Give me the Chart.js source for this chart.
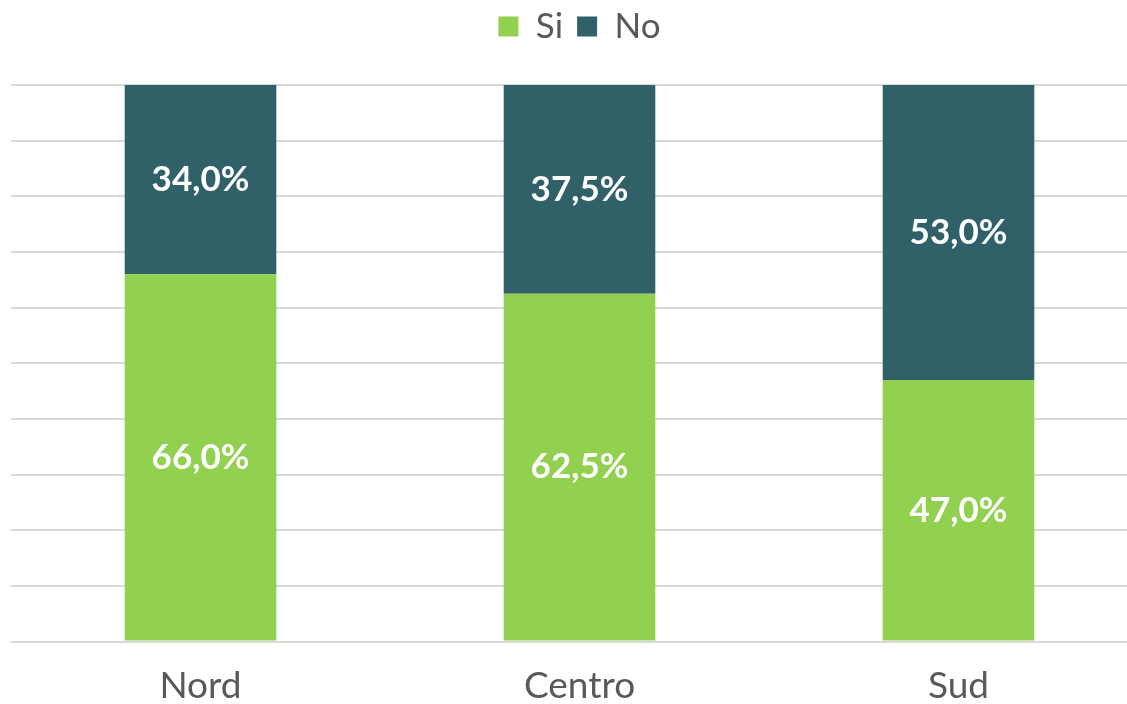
<!DOCTYPE html>
<html>
<head>
<meta charset="utf-8">
<script src="https://cdn.jsdelivr.net/npm/chart.js@4.4.0/dist/chart.umd.min.js"></script>
<style>
  html, body { margin: 0; padding: 0; background: #fff; overflow: hidden; }
  #wrap { width: 1150px; height: 722px; }
</style>
</head>
<body>
<div id="wrap"><canvas id="chart"></canvas></div>
<script>
// valori
var categories = ["Nord", "Centro", "Sud"];
var siValues = [66.0, 62.5, 47.0];
var noValues = [34.0, 37.5, 53.0];
var seriesNames = ["Si", "No"];

var FONT = "Lato, 'Open Sans', sans-serif";

function formatPct(v) {
    return v.toFixed(1).replace(".", ",") + "%";
}

// spazio fisso sotto la legenda
var legendSpace = {
    id: "legendSpace",
    beforeInit: function(chart) {
        var fitOrig = chart.legend.fit;
        chart.legend.fit = function() {
            fitOrig.bind(chart.legend)();
            this.height = 90;
        };
    }
};

// etichette bianche al centro di ogni segmento
var barLabels = {
    id: "barLabels",
    afterDatasetsDraw: function(chart) {
        var ctx = chart.ctx;
        ctx.save();
        ctx.fillStyle = "#ffffff";
        ctx.font = "bold 35px " + FONT;
        ctx.textAlign = "center";
        ctx.textBaseline = "middle";
        chart.data.datasets.forEach(function(ds, i) {
            var meta = chart.getDatasetMeta(i);
            meta.data.forEach(function(bar, j) {
                var mid = (bar.y + bar.base) / 2;
                ctx.fillText(formatPct(ds.data[j]), bar.x, mid);
            });
        });
        ctx.restore();
    }
};

new Chart(document.getElementById("chart"), {
    type: "bar",
    data: {
        labels: categories,
        datasets: [{
            label: seriesNames[0],
            data: siValues,
            backgroundColor: "#92d050",
            categoryPercentage: 1.0,
            barPercentage: 0.4
        }, {
            label: seriesNames[1],
            data: noValues,
            backgroundColor: "#316168",
            categoryPercentage: 1.0,
            barPercentage: 0.4
        }]
    },
    options: {
        responsive: true,
        maintainAspectRatio: false,
        animation: false,
        layout: { padding: { left: 11, right: 2, top: -5, bottom: 0 } },
        plugins: {
            legend: {
                position: "top",
                labels: {
                    boxWidth: 20,
                    boxHeight: 20,
                    padding: 14,
                    color: "#595959",
                    font: { family: FONT, size: 35 }
                }
            },
            tooltip: { enabled: false }
        },
        scales: {
            x: {
                stacked: true,
                grid: { display: false },
                border: { display: false },
                ticks: {
                    color: "#595959",
                    padding: 14,
                    font: { family: FONT, size: 37 }
                }
            },
            y: {
                stacked: true,
                min: 0,
                max: 100,
                ticks: { display: false, stepSize: 10 },
                grid: { color: "#d9d9d9", lineWidth: 2, drawTicks: false },
                border: { display: false }
            }
        }
    },
    plugins: [legendSpace, barLabels]
});
</script>
</body>
</html>
